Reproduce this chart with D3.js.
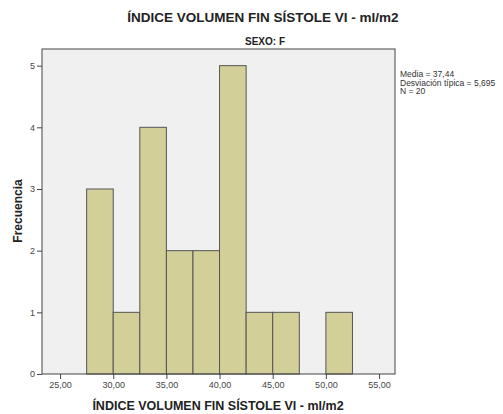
<!DOCTYPE html>
<html><head><meta charset="utf-8">
<script src="https://cdn.jsdelivr.net/npm/d3@7"></script>
<style>body{margin:0;background:#fff}svg{display:block;font-family:"Liberation Sans",Arial,sans-serif}</style>
</head><body>
<svg id="c" width="503" height="414"></svg>
<script>
const binStarts = [27.5, 30, 32.5, 35, 37.5, 40, 42.5, 45, 47.5, 50];
const counts = [3, 1, 4, 2, 2, 5, 1, 1, 0, 1];
const binWidth = 2.5;
const xTicks = [25, 30, 35, 40, 45, 50, 55];
const yTicks = [0, 1, 2, 3, 4, 5];
const statsLines = ["Media = 37,44", "Desviación típica = 5,695", "N = 20"];
const title = "ÍNDICE VOLUMEN FIN SÍSTOLE VI - ml/m2";
const subtitle = "SEXO: F";
const xLabel = "ÍNDICE VOLUMEN FIN SÍSTOLE VI - ml/m2";
const yLabel = "Frecuencia";

const svg = d3.select("#c");
const L = 42, R = 395, T = 49, B = 374;
const x = d3.scaleLinear().domain([23.3, 56.5]).range([L, R]);
const y = d3.scaleLinear().domain([0, 5.27]).range([B, T]);

svg.append("rect").attr("x", L).attr("y", T).attr("width", R - L).attr("height", B - T)
  .attr("fill", "#f0f0f0");

svg.selectAll("rect.bar").data(binStarts.map((s, i) => ({s, c: counts[i]})).filter(d => d.c > 0))
  .enter().append("rect").attr("class", "bar")
  .attr("x", d => x(d.s)).attr("width", d => x(d.s + binWidth) - x(d.s))
  .attr("y", d => y(d.c)).attr("height", d => y(0) - y(d.c))
  .attr("fill", "#d3cf99").attr("stroke", "#555").attr("stroke-width", 1);

svg.append("rect").attr("x", L).attr("y", T).attr("width", R - L).attr("height", B - T)
  .attr("fill", "none").attr("stroke", "#444").attr("stroke-width", 1);

const xa = svg.append("g").attr("transform", `translate(0,${B})`)
  .call(d3.axisBottom(x).tickValues(xTicks).tickSize(5).tickPadding(3)
    .tickFormat(d => d3.format(".2f")(d).replace(".", ",")));
const ya = svg.append("g").attr("transform", `translate(${L},0)`)
  .call(d3.axisLeft(y).tickValues(yTicks).tickSize(5).tickPadding(2).tickFormat(d3.format("d")));
[xa, ya].forEach(a => {
  a.select(".domain").remove();
  a.selectAll("line").attr("stroke", "#444");
  a.selectAll("text").attr("fill", "#444").style("font-size", "9px").style("font-family", '"Liberation Sans",Arial,sans-serif');
});

svg.append("text").attr("x", 263).attr("y", 22).attr("text-anchor", "middle")
  .style("font-size", "13.5px").style("font-weight", "bold").attr("fill", "#222").text(title);
svg.append("text").attr("x", 265).attr("y", 45).attr("text-anchor", "middle")
  .style("font-size", "10px").style("font-weight", "bold").attr("fill", "#222").text(subtitle);
svg.append("text").attr("x", 218).attr("y", 410).attr("text-anchor", "middle")
  .style("font-size", "12.5px").style("font-weight", "bold").attr("fill", "#222").text(xLabel);
svg.append("text").attr("transform", "translate(22,211) rotate(-90)").attr("text-anchor", "middle")
  .style("font-size", "12px").style("font-weight", "bold").attr("fill", "#222").text(yLabel);

svg.append("g").selectAll("text").data(statsLines).enter().append("text")
  .attr("x", 400).attr("y", (d, i) => 77 + i * 8.5)
  .style("font-size", "8.5px").attr("fill", "#333").text(d => d);
</script>
</body></html>
